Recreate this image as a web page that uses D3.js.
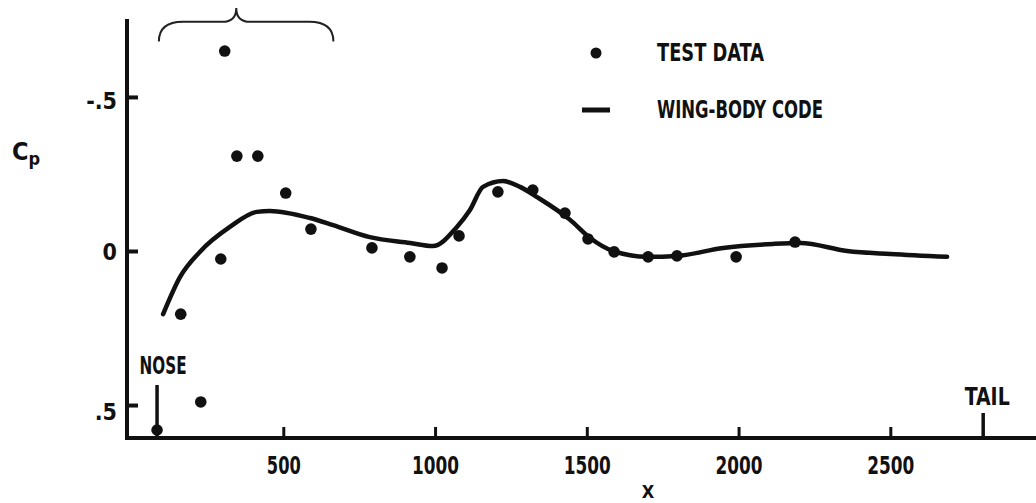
<!DOCTYPE html>
<html>
<head>
<meta charset="utf-8">
<script src="https://cdn.jsdelivr.net/npm/d3@7"></script>
<style>
  html, body { margin: 0; padding: 0; background: #fff; }
  svg { display: block; }
  text { font-family: "Liberation Sans Narrow", "DejaVu Sans Condensed", "Roboto Condensed", sans-serif; font-weight: bold; fill: #111; }
</style>
</head>
<body>
<svg id="chart" width="1036" height="503"></svg>
<script>
// ---- data ----
const testX  = [84, 162, 228, 294, 307, 347, 416, 508, 591, 792, 917, 1023, 1079, 1207, 1322, 1428, 1504, 1590, 1702, 1797, 1992, 2186];
const testCp = [0.581, 0.205, 0.490, 0.026, -0.649, -0.308, -0.308, -0.188, -0.071, -0.010, 0.019, 0.055, -0.049, -0.192, -0.198, -0.123, -0.039, 0.003, 0.019, 0.016, 0.019, -0.029];

const codeX  = [104, 160, 225, 324, 413, 456, 588, 664, 785, 918, 993, 1072, 1115, 1158, 1224, 1280, 1336, 1445, 1511, 1586, 1699, 1797, 1949, 2114, 2203, 2358, 2500, 2687];
const codeCp = [0.205, 0.084, 0.003, -0.078, -0.127, -0.130, -0.107, -0.084, -0.045, -0.026, -0.016, -0.078, -0.133, -0.208, -0.227, -0.208, -0.175, -0.101, -0.042, 0.000, 0.019, 0.016, -0.010, -0.023, -0.026, 0.000, 0.010, 0.019];

const xTicks = [500, 1000, 1500, 2000, 2500];
const yTicks = [-0.5, 0, 0.5];
const yTickLabels = ["-.5", "0", ".5"];
const legendLabels = ["TEST DATA", "WING-BODY CODE"];
const noseX = 84, tailX = 2806;
const braceX = [90, 345, 665];          // left end, peak, right end (x units)
const braceCp = [-0.68, -0.744, -0.789]; // ends, body, peak (Cp units)

// ---- scales ----
const svg = d3.select("#chart");
const x = d3.scaleLinear().domain([-15, 2980]).range([127, 1036]);
const y = d3.scaleLinear().domain([-0.753, 0.607]).range([19, 438]);

// ---- axes ----
const gx = svg.append("g").attr("transform", `translate(0,${y(0.607)})`)
  .call(d3.axisBottom(x).tickValues(xTicks).tickSize(-11).tickSizeOuter(0).tickFormat(d3.format("d")));
gx.select(".domain").remove();
gx.selectAll(".tick line").attr("stroke", "#111").attr("stroke-width", 3);
gx.selectAll(".tick text").attr("y", 36).attr("dy", 0).attr("font-size", 24)
  .attr("textLength", 47).attr("lengthAdjust", "spacingAndGlyphs");
gx.selectAll(".tick").filter(d => d === 500).select("text").attr("textLength", 34);

const gy = svg.append("g").attr("transform", `translate(${x(-15)},0)`)
  .call(d3.axisLeft(y).tickValues(yTicks).tickSize(-11).tickSizeOuter(0).tickFormat((d, i) => yTickLabels[i]));
gy.select(".domain").remove();
gy.selectAll(".tick line").attr("stroke", "#111").attr("stroke-width", 4);
gy.selectAll(".tick text").attr("x", -10).attr("dy", "0.36em").attr("font-size", 23);
gy.selectAll(".tick").filter(d => d === 0.5).select("text").attr("dy", "0.65em");
gy.selectAll(".tick").filter(d => d === -0.5).select("text").attr("dy", "0.5em");
svg.selectAll(".tick text").attr("font-family", null);

// axis lines
svg.append("line").attr("x1", x(-15)).attr("x2", x(-15)).attr("y1", y(-0.753)).attr("y2", y(0.607) + 2)
  .attr("stroke", "#111").attr("stroke-width", 4);
svg.append("line").attr("x1", x(-15) - 2).attr("x2", x(2980)).attr("y1", y(0.607)).attr("y2", y(0.607))
  .attr("stroke", "#111").attr("stroke-width", 4);

// ---- curve ----
const codeData = codeX.map((d, i) => [d, codeCp[i]]);
svg.append("path").datum(codeData)
  .attr("fill", "none").attr("stroke", "#111").attr("stroke-width", 4.5)
  .attr("stroke-linecap", "round").attr("stroke-linejoin", "round")
  .attr("d", d3.line().x(d => x(d[0])).y(d => y(d[1])).curve(d3.curveMonotoneX));

// ---- points ----
svg.append("g").selectAll("circle").data(testX.map((d, i) => [d, testCp[i]])).join("circle")
  .attr("cx", d => x(d[0])).attr("cy", d => y(d[1])).attr("r", 5.8).attr("fill", "#111");

// ---- nose / tail markers ----
svg.append("line").attr("x1", x(noseX)).attr("x2", x(noseX)).attr("y1", 385).attr("y2", y(0.607))
  .attr("stroke", "#111").attr("stroke-width", 3.5);
svg.append("text").attr("x", x(noseX) + 6).attr("y", 374).attr("text-anchor", "middle")
  .attr("font-size", 25).attr("textLength", 47).attr("lengthAdjust", "spacingAndGlyphs").text("NOSE");
svg.append("line").attr("x1", x(tailX)).attr("x2", x(tailX)).attr("y1", 413).attr("y2", y(0.607))
  .attr("stroke", "#111").attr("stroke-width", 3.5);
svg.append("text").attr("x", x(tailX) + 4).attr("y", 405).attr("text-anchor", "middle")
  .attr("font-size", 25).attr("textLength", 45).attr("lengthAdjust", "spacingAndGlyphs").text("TAIL");

// ---- brace ----
{
  const x0 = x(braceX[0]), xm = x(braceX[1]), x1 = x(braceX[2]);
  const ye = y(braceCp[0]), yb = y(braceCp[1]), yp = y(braceCp[2]);
  const p = d3.path();
  p.moveTo(x0, ye);
  p.quadraticCurveTo(x0, yb, x0 + 24, yb);
  p.lineTo(xm - 14, yb);
  p.quadraticCurveTo(xm, yb, xm, yp);
  p.quadraticCurveTo(xm, yb, xm + 14, yb);
  p.lineTo(x1 - 24, yb);
  p.quadraticCurveTo(x1, yb, x1, ye);
  svg.append("path").attr("d", p.toString()).attr("fill", "none")
    .attr("stroke", "#222").attr("stroke-width", 2);
}

// ---- axis titles ----
const cp = svg.append("text").attr("x", 12).attr("y", 160).attr("font-size", 25);
cp.append("tspan").text("C");
cp.append("tspan").attr("font-size", 18).attr("dy", 5).text("p");
svg.append("text").attr("x", 648).attr("y", 498).attr("text-anchor", "middle").attr("font-size", 18).text("X");

// ---- legend ----
svg.append("circle").attr("cx", 596).attr("cy", 53).attr("r", 5.5).attr("fill", "#111");
svg.append("line").attr("x1", 582).attr("x2", 610).attr("y1", 110).attr("y2", 110)
  .attr("stroke", "#111").attr("stroke-width", 5);
svg.append("text").attr("x", 657).attr("y", 61).attr("font-size", 25)
  .attr("textLength", 107).attr("lengthAdjust", "spacingAndGlyphs").text(legendLabels[0]);
svg.append("text").attr("x", 657).attr("y", 118).attr("font-size", 25)
  .attr("textLength", 166).attr("lengthAdjust", "spacingAndGlyphs").text(legendLabels[1]);
</script>
</body>
</html>
